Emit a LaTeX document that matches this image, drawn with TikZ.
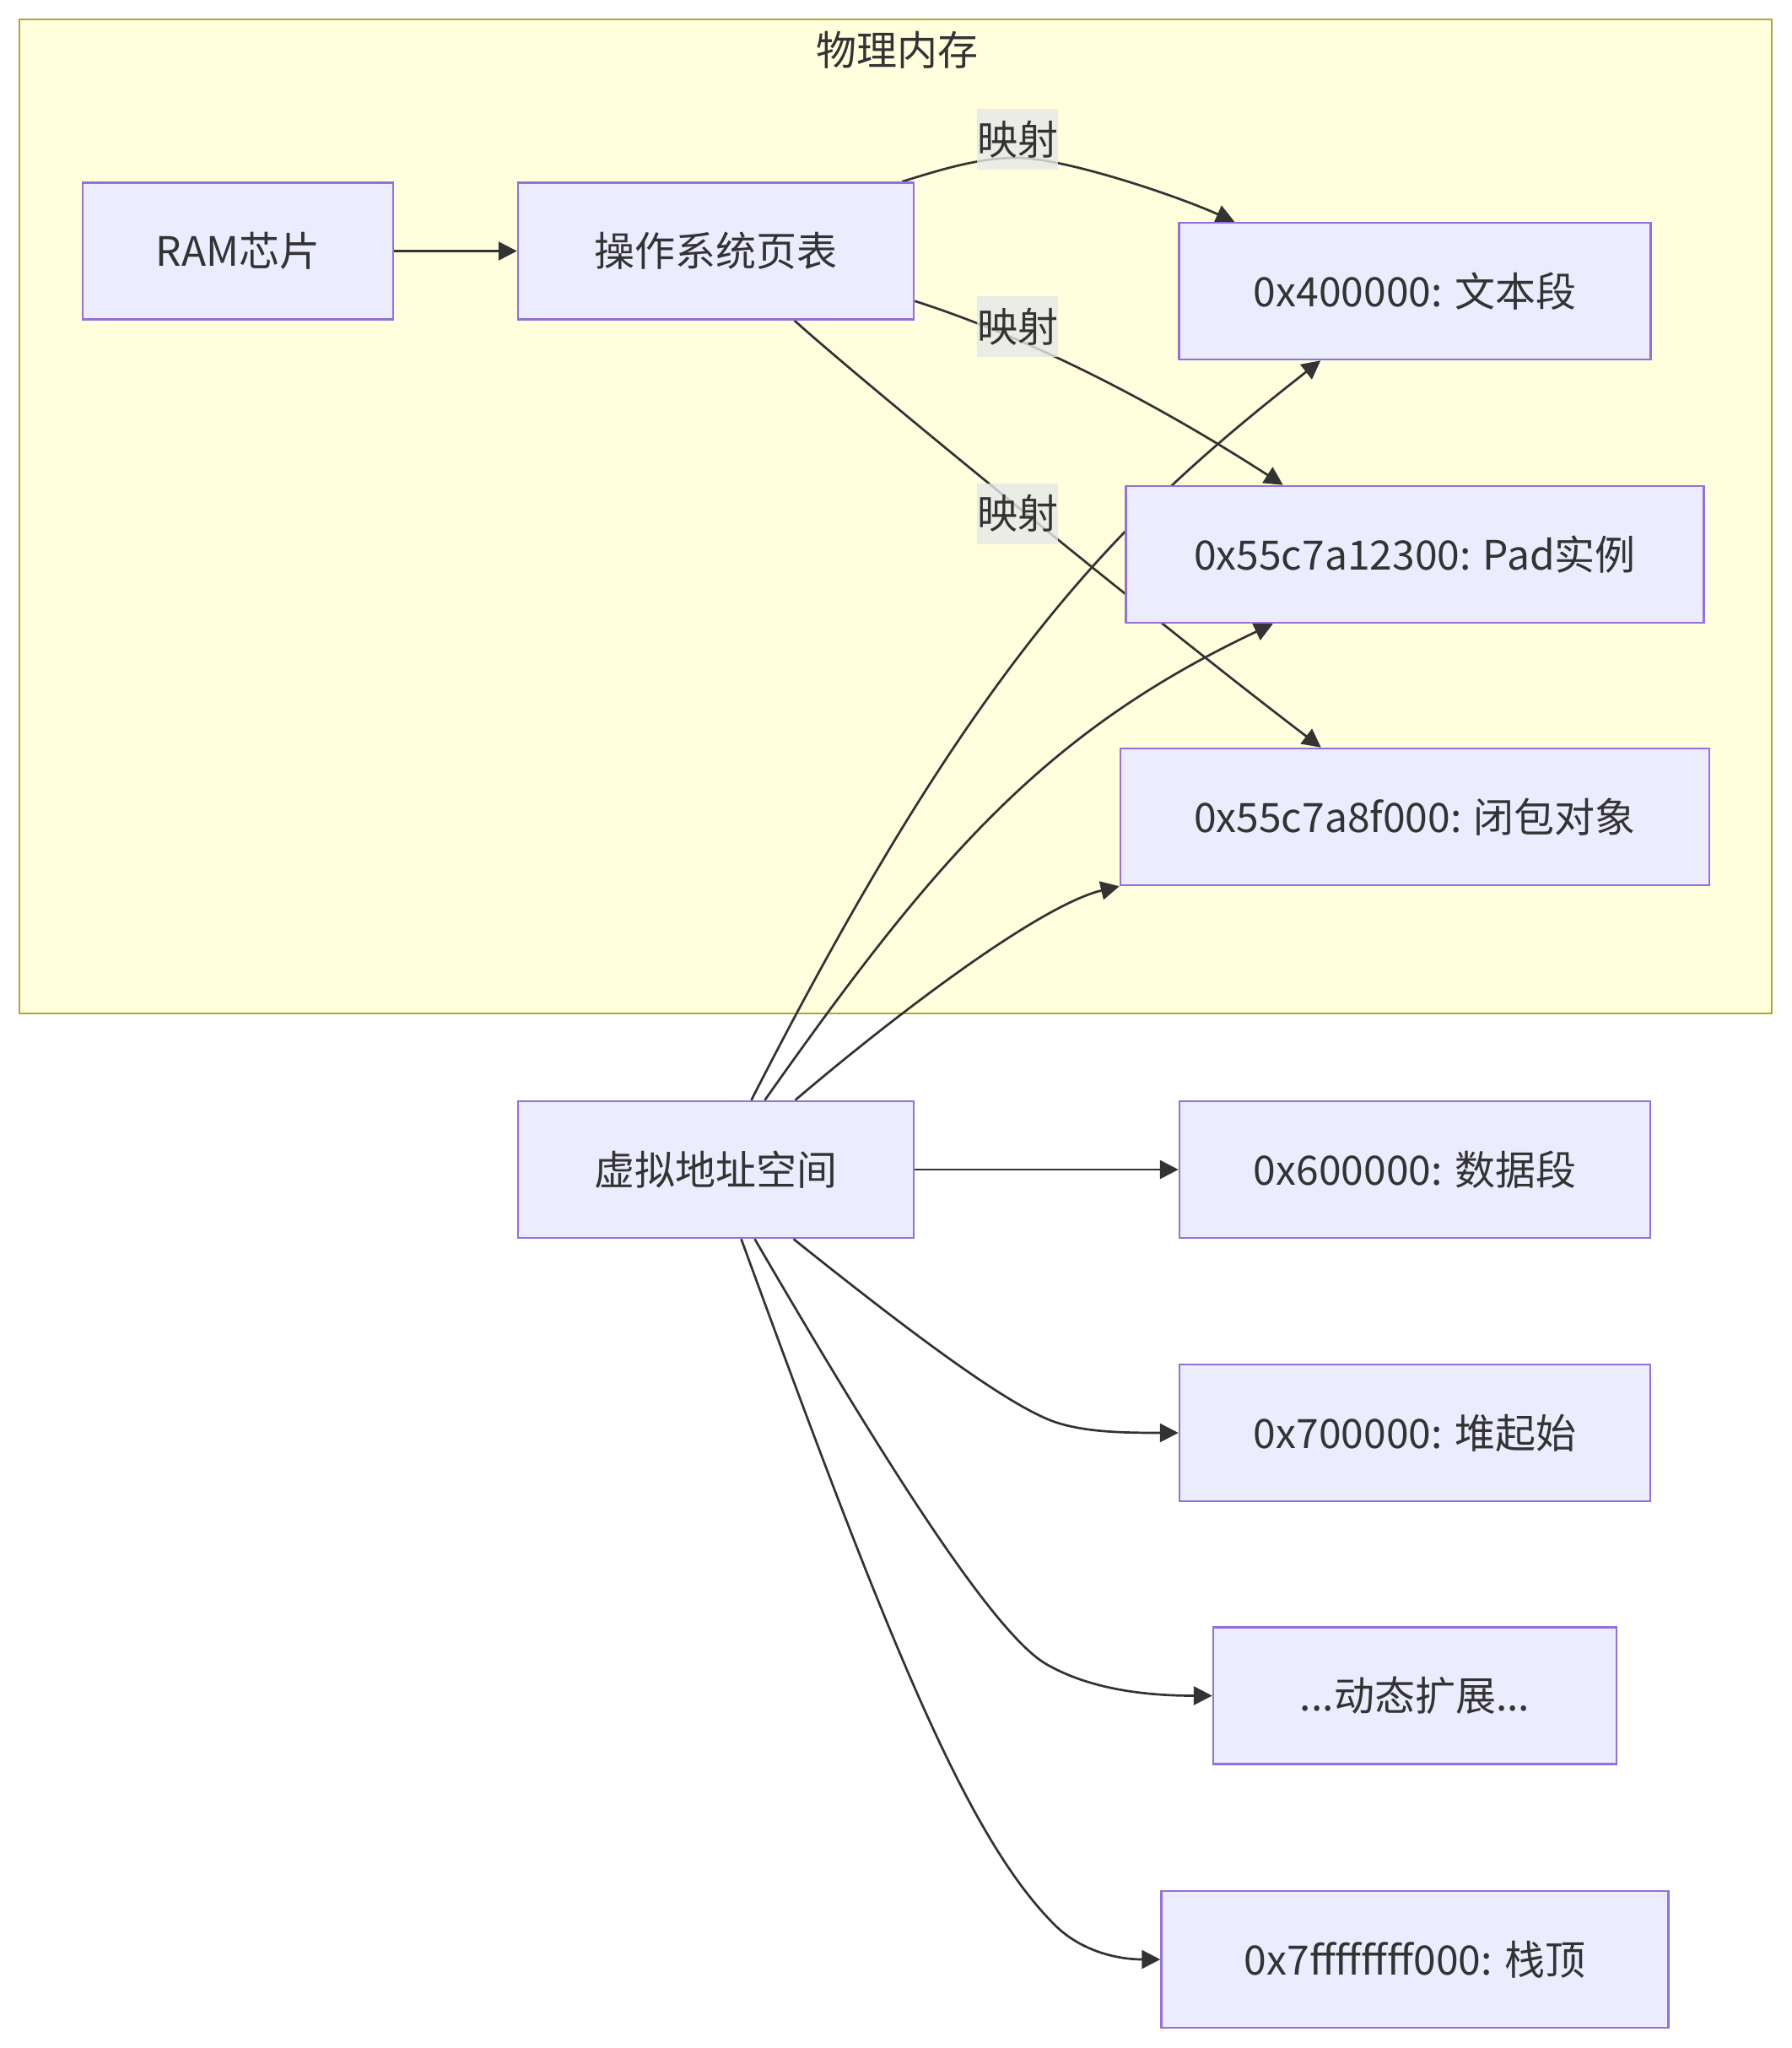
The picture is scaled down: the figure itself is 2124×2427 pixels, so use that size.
\documentclass[tikz,border=0pt]{standalone}
\usepackage{fontspec}
\setmainfont{Noto Sans CJK SC}
\usetikzlibrary{arrows.meta}
\definecolor{nodefill}{HTML}{ECECFF}
\definecolor{nodeline}{HTML}{9370DB}
\definecolor{clfill}{HTML}{FFFFDE}
\definecolor{clline}{HTML}{AAAA33}
\definecolor{edgec}{HTML}{333333}
\definecolor{txt}{HTML}{333333}
\definecolor{lblfill}{HTML}{E8E8E8}
\pgfdeclarelayer{bg}
\pgfdeclarelayer{edges}
\pgfsetlayers{bg,edges,main}
\begin{document}
\begin{tikzpicture}[x=1pt,y=-1pt,
  box/.style={draw=nodeline, fill=nodefill, line width=2.5pt, minimum height=162pt,
    inner sep=0pt, text=txt, font=\fontsize{48}{58}\selectfont},
  lbl/.style={fill=lblfill, fill opacity=0.8, text opacity=1, text=txt,
    minimum width=96pt, minimum height=72pt, inner sep=0pt, font=\fontsize{48}{58}\selectfont},
  edge/.style={draw=edgec, line width=2.7pt, -{Triangle[length=22pt,width=22pt]}},
  cluster/.style={draw=clline, fill=clfill, line width=2.5pt, inner sep=0pt},
]
\useasboundingbox (0,0) rectangle (2124,2427);

% cluster
\begin{pgfonlayer}{bg}
\fill[white] (0,0) rectangle (2124,2427);
\node[cluster, minimum width=2077pt, minimum height=1178pt] (mem) at (1061.5,612) {};
\end{pgfonlayer}
\node[text=txt, font=\fontsize{48}{58}\selectfont, inner sep=0pt] (title) at (1063,59) {物理内存};

% nodes
\node[box, minimum width=368pt] (ram) at (282,297.5) {RAM芯片};
\node[box, minimum width=469pt] (os) at (848.5,297.5) {操作系统页表};
\node[box, minimum width=559pt] (t1) at (1677,345) {0x400000: 文本段};
\node[box, minimum width=685pt] (pad) at (1677,657) {0x55c7a12300: Pad实例};
\node[box, minimum width=698pt] (clo) at (1677,968) {0x55c7a8f000: 闭包对象};
\node[box, minimum width=469pt] (virt) at (848.5,1386) {虚拟地址空间};
\node[box, minimum width=558pt] (data) at (1677,1386) {0x600000: 数据段};
\node[box, minimum width=558pt] (heap) at (1677,1698) {0x700000: 堆起始};
\node[box, minimum width=478pt] (dyn) at (1677,2009.5) {...动态扩展...};
\node[box, minimum width=601pt] (stack) at (1677,2322) {0x7ffffffff000: 栈顶};

% labels
\node[lbl] (l1) at (1206,165) {映射};
\node[lbl] (l2) at (1206,387) {映射};
\node[lbl] (l3) at (1206,608.5) {映射};

% edges
\begin{pgfonlayer}{edges}
\draw[edge] (ram.east) -- (os.west);
\draw[edge] ([xshift=-15pt]os.north east) .. controls (1115,201) and (1160,187) .. (1205,187)
  .. controls (1260,187) and (1390,230) .. ([xshift=67pt]t1.north west);
\draw[edge] ([yshift=23pt]os.south east) .. controls (1235,405) and (1388,489) .. ([xshift=187.5pt]pad.north west);
\draw[edge] ([xshift=93pt]os.south) .. controls (1040,468) and (1400,760) .. ([xshift=239pt]clo.north west);
\draw[edge] ([xshift=42pt]virt.north) .. controls (1163,770) and (1331,611) .. ([xshift=169pt]t1.south west);
\draw[edge] ([xshift=58pt]virt.north) .. controls (1108,1018) and (1238,867) .. ([xshift=175.5pt]pad.south west);
\draw[edge] ([xshift=94pt]virt.north) .. controls (1056,1207) and (1231,1073) .. (clo.south west);
\draw[edge] (virt.east) -- (data.west);
\draw[edge] ([xshift=92pt]virt.south) .. controls (1100,1596) and (1200,1667.5) .. (1250,1685)
  .. controls (1285,1697) and (1330,1698) .. (heap.west);
\draw[edge] ([xshift=46pt]virt.south) .. controls (1020,1683.5) and (1170.7,1932) .. (1240,1972)
  .. controls (1292,2002) and (1358,2009.5) .. (dyn.west);
\draw[edge] ([xshift=30pt]virt.south) .. controls (1050,1937) and (1144,2175) .. (1250,2281)
  .. controls (1282,2313) and (1326,2322) .. (stack.west);
\end{pgfonlayer}
\end{tikzpicture}
\end{document}
